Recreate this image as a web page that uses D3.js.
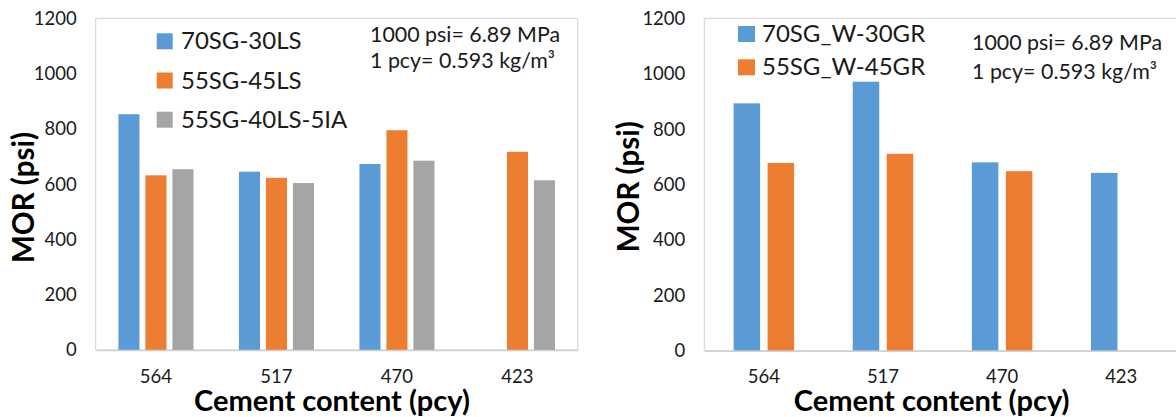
<!DOCTYPE html>
<html>
<head>
<meta charset="utf-8">
<script src="https://cdn.jsdelivr.net/npm/d3@7"></script>
<style>
  html, body { margin: 0; padding: 0; background: #fff; }
  svg { display: block; font-family: Lato, "Open Sans", sans-serif; }
</style>
</head>
<body>
<svg id="chart" width="1176" height="417"></svg>
<script>
// ---------- DATA ----------
const categories = ["564", "517", "470", "423"];
const yTicks = [0, 200, 400, 600, 800, 1000, 1200];

// Left panel
const leftSeriesNames = ["70SG-30LS", "55SG-45LS", "55SG-40LS-5IA"];
const left_70SG_30LS = [853, 645, 673, null];
const left_55SG_45LS = [632, 623, 795, 717];
const left_55SG_40LS_5IA = [654, 604, 685, 614];

// Right panel
const rightSeriesNames = ["70SG_W-30GR", "55SG_W-45GR"];
const right_70SG_W_30GR = [893, 971, 680, 642];
const right_55SG_W_45GR = [678, 711, 648, null];

const seriesColors = ["#5B9BD5", "#ED7D31", "#A5A5A5"];
const noteLines = ["1000 psi= 6.89 MPa", "1 pcy= 0.593 kg/m\u00B3"];
const xTitle = "Cement content (pcy)";
const yTitle = "MOR (psi)";

// ---------- DRAW ----------
const svg = d3.select("#chart");

function drawPanel(cfg) {
  const g = svg.append("g");
  const y = d3.scaleLinear().domain([0, 1200]).range([cfg.bottom, cfg.top]);
  const x0 = d3.scaleBand().domain(categories).range([cfg.left, cfg.right])
    .paddingInner(cfg.groupPad).paddingOuter(cfg.groupPad / 2);
  const x1 = d3.scaleBand().domain(cfg.names).range([0, x0.bandwidth()])
    .paddingInner(0.22).paddingOuter(0.11);

  // plot border
  g.append("rect")
    .attr("x", cfg.left).attr("y", cfg.top)
    .attr("width", cfg.right - cfg.left).attr("height", cfg.bottom - cfg.top)
    .attr("fill", "none").attr("stroke", "#d9d9d9").attr("stroke-width", 1.2);

  // bars
  cfg.series.forEach((vals, si) => {
    g.append("g").selectAll("rect")
      .data(vals.map((v, i) => ({ c: categories[i], v })).filter(d => d.v != null))
      .join("rect")
      .attr("x", d => x0(d.c) + x1(cfg.names[si]))
      .attr("width", x1.bandwidth())
      .attr("y", d => y(d.v))
      .attr("height", d => y(0) - y(d.v))
      .attr("fill", seriesColors[si]);
  });

  // y axis
  const ya = g.append("g").attr("transform", `translate(${cfg.left},0)`)
    .call(d3.axisLeft(y).tickValues(yTicks).tickFormat(d3.format("d"))
      .tickSize(0).tickPadding(19));
  ya.select(".domain").remove();
  ya.selectAll("text").attr("font-size", 18.5).attr("fill", "#1a1a1a")
    .attr("font-family", "Lato, sans-serif");

  // x axis
  const xa = g.append("g").attr("transform", `translate(0,${cfg.bottom})`)
    .call(d3.axisBottom(x0).tickSize(0).tickPadding(19.5));
  xa.select(".domain").attr("stroke", "#d0d0d0").attr("stroke-width", 1.5);
  xa.selectAll("text").attr("font-size", 18.5).attr("fill", "#1a1a1a")
    .attr("font-family", "Lato, sans-serif");

  // legend
  cfg.names.forEach((n, i) => {
    const ly = cfg.legY + i * cfg.legStep;
    g.append("rect").attr("x", cfg.legX).attr("y", ly)
      .attr("width", cfg.legSq).attr("height", 16).attr("fill", seriesColors[i]);
    g.append("text").attr("x", cfg.legX + cfg.legTextDx).attr("y", ly + 16)
      .attr("font-size", cfg.legFs).attr("fill", "#1a1a1a").text(n);
  });

  // note
  noteLines.forEach((t, i) => {
    g.append("text").attr("x", cfg.noteX).attr("y", cfg.noteY[i])
      .attr("font-size", 21.4).attr("fill", "#1a1a1a").text(t);
  });

  // titles
  g.append("text").attr("x", cfg.xTitleX).attr("y", 411)
    .attr("text-anchor", "middle").attr("font-weight", "bold")
    .attr("font-size", 29).attr("fill", "#000").text(xTitle);
  g.append("text")
    .attr("transform", `translate(${cfg.yTitleX},${cfg.yTitleY}) rotate(-90)`)
    .attr("text-anchor", "middle").attr("font-weight", "bold")
    .attr("font-size", 29.5).attr("fill", "#000").text(yTitle);
}

drawPanel({
  left: 95.7, right: 577.7, top: 18.3, bottom: 350,
  groupPad: 0.328,
  names: leftSeriesNames,
  series: [left_70SG_30LS, left_55SG_45LS, left_55SG_40LS_5IA],
  legX: 156.7, legY: 33.3, legStep: 39.2, legSq: 16, legTextDx: 24.3, legFs: 24,
  noteX: 370, noteY: [42, 67.5],
  xTitleX: 332, yTitleX: 34, yTitleY: 197.5
});

drawPanel({
  left: 704.3, right: 1180.8, top: 18.3, bottom: 350.7,
  groupPad: 0.429,
  names: rightSeriesNames,
  series: [right_70SG_W_30GR, right_55SG_W_45GR],
  legX: 738, legY: 26, legStep: 33.3, legSq: 17, legTextDx: 24, legFs: 24,
  noteX: 972, noteY: [49.5, 78.5],
  xTitleX: 931.7, yTitleX: 639, yTitleY: 186.7
});
</script>
</body>
</html>
